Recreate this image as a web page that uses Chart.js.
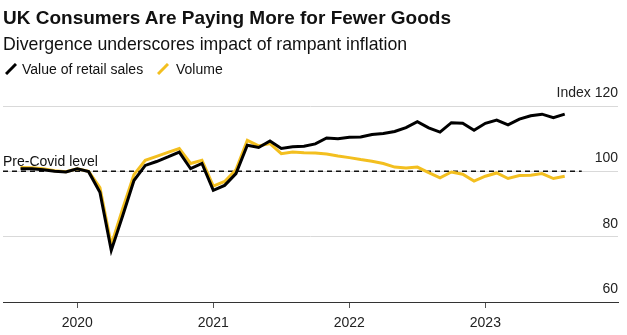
<!DOCTYPE html>
<html>
<head>
<meta charset="utf-8">
<script src="https://cdn.jsdelivr.net/npm/chart.js@4.4.0/dist/chart.umd.min.js"></script>
<style>
  body { margin: 0; background: #fff; font-family: "Liberation Sans", Arial, sans-serif; color: #111; }
  #wrap { position: relative; width: 627px; height: 335px; overflow: hidden; }
  #chartBox { position: absolute; left: 0; top: 0; width: 627px; height: 335px; }
  .txt { position: absolute; white-space: nowrap; }
  #title { left: 3px; top: 8px; font-size: 19px; line-height: 19px; font-weight: bold; }
  #subtitle { left: 3px; top: 35px; font-size: 17.7px; line-height: 18px; }
  .leg { top: 62px; font-size: 14px; line-height: 14px; }
  .swatch { position: absolute; top: 63px; }
</style>
</head>
<body>
<div id="wrap">
  <div id="chartBox"><canvas id="chart"></canvas></div>
  <div class="txt" id="title">UK Consumers Are Paying More for Fewer Goods</div>
  <div class="txt" id="subtitle">Divergence underscores impact of rampant inflation</div>
  <svg class="swatch" style="left:5px" width="12" height="12"><line x1="1" y1="11" x2="11" y2="1" stroke="#000" stroke-width="3"/></svg>
  <div class="txt leg" style="left:22px">Value of retail sales</div>
  <svg class="swatch" style="left:157px" width="12" height="12"><line x1="1" y1="11" x2="11" y2="1" stroke="#f3bf1f" stroke-width="3"/></svg>
  <div class="txt leg" style="left:176px">Volume</div>
</div>
<script>
// Monthly data, Aug 2019 - Aug 2023 (index, Feb 2020 = 100)
const months = [
  "Aug 2019", "Sep 2019", "Oct 2019", "Nov 2019", "Dec 2019",
  "Jan 2020", "Feb 2020", "Mar 2020", "Apr 2020", "May 2020", "Jun 2020",
  "Jul 2020", "Aug 2020", "Sep 2020", "Oct 2020", "Nov 2020", "Dec 2020",
  "Jan 2021", "Feb 2021", "Mar 2021", "Apr 2021", "May 2021", "Jun 2021",
  "Jul 2021", "Aug 2021", "Sep 2021", "Oct 2021", "Nov 2021", "Dec 2021",
  "Jan 2022", "Feb 2022", "Mar 2022", "Apr 2022", "May 2022", "Jun 2022",
  "Jul 2022", "Aug 2022", "Sep 2022", "Oct 2022", "Nov 2022", "Dec 2022",
  "Jan 2023", "Feb 2023", "Mar 2023", "Apr 2023", "May 2023", "Jun 2023",
  "Jul 2023", "Aug 2023"
];

const valueSales = [
  100.8, 100.8, 100.5, 100.0, 99.8,
  100.8, 99.9, 93.6, 75.8, 86.3, 97.2, 101.8, 103.0, 104.4, 105.9, 100.8, 102.4,
  94.2, 95.7, 99.3, 108.0, 107.3, 109.3, 107.0, 107.5, 107.7, 108.4, 110.2, 110.0,
  110.4, 110.5, 111.3, 111.6, 112.2, 113.4, 115.2, 113.3, 112.0, 114.9, 114.7, 112.6,
  114.7, 115.7, 114.2, 116.0, 117.0, 117.5, 116.4, 117.5
];

const volumeSales = [
  101.2, 101.1, 100.8, 100.2, 99.9,
  100.8, 100.0, 95.0, 77.5, 88.5, 99.0, 103.4, 104.6, 105.8, 107.0, 102.4, 103.4,
  95.5, 96.9, 100.5, 109.5, 107.8, 108.5, 105.4, 105.9, 105.7, 105.6, 105.3, 104.7,
  104.2, 103.6, 103.1, 102.4, 101.3, 101.0, 101.3, 99.6, 98.0, 99.8, 99.1, 97.0,
  98.5, 99.5, 97.8, 98.7, 98.8, 99.3, 97.8, 98.5
];

const yearLabels = ["2020", "2021", "2022", "2023"];
const yearTickIdx = yearLabels.map(y => months.indexOf("Jan " + y));
const yTicks = [60, 80, 100, 120];
const preCovid = 100;

const toPoints = arr => arr.map((v, i) => ({ x: i, y: v }));

// dashed pre-covid reference line + label
const preCovidPlugin = {
  id: "preCovid",
  beforeDatasetsDraw(chart) {
    const { ctx, chartArea, scales } = chart;
    const y = scales.y.getPixelForValue(preCovid);
    const xEnd = scales.x.getPixelForValue(months.length + 0.5);
    ctx.save();
    ctx.strokeStyle = "#111";
    ctx.lineWidth = 1.5;
    ctx.setLineDash([5, 4]);
    ctx.beginPath();
    ctx.moveTo(chartArea.left, y);
    ctx.lineTo(xEnd, y);
    ctx.stroke();
    ctx.setLineDash([]);
    ctx.fillStyle = "#111";
    ctx.font = "14px 'Liberation Sans', Arial, sans-serif";
    ctx.textBaseline = "alphabetic";
    ctx.fillText("Pre-Covid level", chartArea.left, y - 5);
    ctx.restore();
  }
};

new Chart(document.getElementById("chart"), {
  type: "line",
  data: {
    datasets: [
      {
        label: "Value of retail sales",
        data: toPoints(valueSales),
        borderColor: "#000",
        borderWidth: 3,
        pointRadius: 0,
        tension: 0
      },
      {
        label: "Volume",
        data: toPoints(volumeSales),
        borderColor: "#f3bf1f",
        borderWidth: 3,
        pointRadius: 0,
        tension: 0
      }
    ]
  },
  options: {
    responsive: true,
    maintainAspectRatio: false,
    animation: false,
    layout: { padding: { left: 3, right: 9, top: 106, bottom: 0 } },
    plugins: {
      legend: { display: false },
      tooltip: { enabled: false }
    },
    scales: {
      x: {
        type: "linear",
        min: -1.55,
        max: 52.7,
        afterBuildTicks: s => { s.ticks = yearTickIdx.map(v => ({ value: v })); },
        afterFit: s => { s.height = 33; },
        grid: { drawOnChartArea: false, drawTicks: true, tickLength: 6, tickColor: "#555" },
        border: { display: true, color: "#333", width: 1 },
        ticks: {
          autoSkip: false,
          maxRotation: 0,
          padding: 7,
          color: "#222",
          font: { family: "'Liberation Sans', Arial, sans-serif", size: 14 },
          callback: v => yearLabels[yearTickIdx.indexOf(v)]
        }
      },
      y: {
        position: "right",
        min: 60,
        max: 120,
        afterBuildTicks: s => { s.ticks = yTicks.map(v => ({ value: v })); },
        afterFit: s => { s.width = 0; },
        grid: { color: "#d9d9d9", lineWidth: 1, drawTicks: false },
        border: { display: false },
        ticks: {
          mirror: true,
          padding: 0,
          labelOffset: -13,
          color: "#222",
          font: { family: "'Liberation Sans', Arial, sans-serif", size: 14 },
          callback: v => (v === 120 ? "Index 120" : v)
        }
      }
    }
  },
  plugins: [preCovidPlugin]
});
</script>
</body>
</html>
